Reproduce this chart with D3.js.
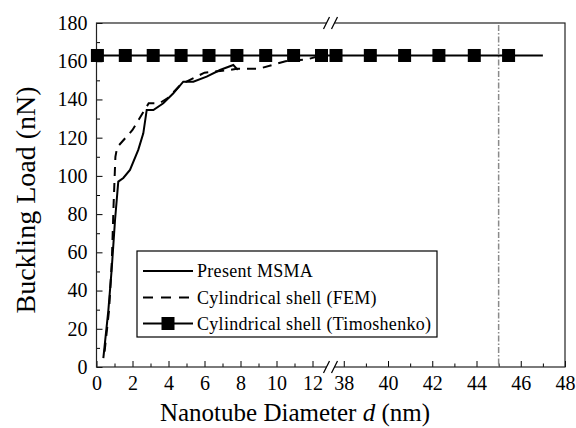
<!DOCTYPE html>
<html>
<head>
<meta charset="utf-8">
<script src="https://cdn.jsdelivr.net/npm/d3@7"></script>
<style>
  body { margin: 0; background: #fff; }
  svg { display: block; font-family: "Liberation Serif", "Times New Roman", serif; }
</style>
</head>
<body>
<div id="chartContainer"></div>
<script>
// present MSMA (solid)
var msmaD = [0.38, 0.66, 0.84, 1.03, 1.21, 1.49, 1.86, 2.32, 2.6, 2.79, 3.16, 3.71, 4.27, 4.82, 5.38, 6.12, 6.86, 7.6, 7.85];
var msmaLoad = [4.6, 29.8, 50.7, 76.9, 97, 98.9, 103.1, 113.6, 122.3, 134.5, 134.5, 138, 143.2, 149.3, 149.3, 151.9, 155.4, 158, 155.5];
// cylindrical shell FEM (dashed)
var femD = [0.45, 0.7, 0.85, 0.95, 1.05, 1.15, 2.0, 2.9, 3.5, 4.0, 4.7, 6.0, 7.0, 7.8, 9.0, 10.5, 11.7, 12.5];
var femLoad = [8, 30, 55, 85, 110, 115, 124, 138, 138, 141, 148, 154, 155, 156, 156, 160, 161, 163];
// Timoshenko (line + squares)
var timoLineD = [0, 47];
var timoLoad = 163;
var timoMarkD = [0.05, 1.6, 3.15, 4.7, 6.25, 7.8, 9.4, 10.95, 12.5, 37.65, 39.2, 40.75, 42.3, 43.9, 45.45];
// dash-dot reference line
var refD = 45;

var yMajor = [0, 20, 40, 60, 80, 100, 120, 140, 160, 180];
var yMinor = [10, 30, 50, 70, 90, 110, 130, 150, 170];
var xMajor = [0, 2, 4, 6, 8, 10, 12, 38, 40, 42, 44, 46, 48];
var xMinor = [1, 3, 5, 7, 9, 11, 39, 41, 43, 45, 47];
var breakAt = 13;

var legendNames = ["Present MSMA", "Cylindrical shell (FEM)", "Cylindrical shell (Timoshenko)"];

var width = 576, height = 428;
var plotLeft = 96.5, plotRight = 565, plotTop = 23, plotBottom = 367;

var svg = d3.select("#chartContainer")
    .append("svg")
    .attr("width", width)
    .attr("height", height);

svg.append("rect").attr("width", width).attr("height", height).attr("fill", "#fff");

// broken x axis: 0-13 then 37.4-48
var xScale = d3.scaleLinear()
    .domain([0, 13, 37.4, 48])
    .range([plotLeft, 330.5, 330.5, plotRight]);

var yScale = d3.scaleLinear()
    .domain([0, 180])
    .range([plotBottom, plotTop]);

var tickFont = "20px 'Liberation Serif', 'Times New Roman', serif";

// y axis
var yAxis = svg.append("g")
    .attr("transform", "translate(" + plotLeft + ",0)")
    .call(d3.axisLeft(yScale).tickValues(yMajor).tickSize(-6).tickSizeOuter(0).tickPadding(9));
yAxis.select(".domain").remove();
yAxis.selectAll("text").style("font", tickFont).attr("fill", "#000");

var yAxisMinor = svg.append("g")
    .attr("transform", "translate(" + plotLeft + ",0)")
    .call(d3.axisLeft(yScale).tickValues(yMinor).tickSize(-3.5).tickFormat(""));
yAxisMinor.select(".domain").remove();

// x axis
var xAxis = svg.append("g")
    .attr("transform", "translate(0," + plotBottom + ")")
    .call(d3.axisBottom(xScale).tickValues(xMajor).tickSize(-6).tickSizeOuter(0).tickPadding(9).tickFormat(d3.format("d")));
xAxis.select(".domain").remove();
xAxis.selectAll("text").style("font", tickFont).attr("fill", "#000");

var xAxisMinor = svg.append("g")
    .attr("transform", "translate(0," + plotBottom + ")")
    .call(d3.axisBottom(xScale).tickValues(xMinor).tickSize(-3.5).tickFormat(""));
xAxisMinor.select(".domain").remove();

svg.selectAll(".tick line").attr("stroke", "#000").attr("stroke-width", 1);

// frame
svg.append("rect")
    .attr("x", plotLeft).attr("y", plotTop)
    .attr("width", plotRight - plotLeft).attr("height", plotBottom - plotTop)
    .attr("fill", "none")
    .attr("stroke", "#222")
    .attr("stroke-width", 1.2);

// reference dash-dot line
svg.append("line")
    .attr("x1", xScale(refD)).attr("x2", xScale(refD))
    .attr("y1", plotTop + 2).attr("y2", plotBottom)
    .attr("stroke", "#8a8a8a")
    .attr("stroke-width", 1.5)
    .attr("stroke-dasharray", "6,2,1.5,2");

var line = d3.line()
    .x(function(d) { return xScale(d[0]); })
    .y(function(d) { return yScale(d[1]); });

// FEM dashed
svg.append("path")
    .datum(d3.zip(femD, femLoad))
    .attr("d", line)
    .attr("fill", "none")
    .attr("stroke", "#000")
    .attr("stroke-width", 2)
    .attr("stroke-dasharray", "9,7");

// MSMA solid
svg.append("path")
    .datum(d3.zip(msmaD, msmaLoad))
    .attr("d", line)
    .attr("fill", "none")
    .attr("stroke", "#000")
    .attr("stroke-width", 2);

// Timoshenko
svg.append("path")
    .datum(timoLineD.map(function(d) { return [d, timoLoad]; }))
    .attr("d", line)
    .attr("fill", "none")
    .attr("stroke", "#000")
    .attr("stroke-width", 2);

var sq = 13;
svg.selectAll("rect.timo")
    .data(timoMarkD)
    .enter()
    .append("rect")
    .attr("class", "timo")
    .attr("x", function(d) { return xScale(d) - sq / 2; })
    .attr("y", yScale(timoLoad) - sq / 2)
    .attr("width", sq)
    .attr("height", sq)
    .attr("fill", "#000");

// axis break marks
function breakMark(y) {
    var bx = xScale(breakAt);
    svg.append("rect")
        .attr("x", bx - 4).attr("y", y - 2)
        .attr("width", 8).attr("height", 4)
        .attr("fill", "#fff");
    [-4, 4].forEach(function(o) {
        svg.append("line")
            .attr("x1", bx + o - 3).attr("y1", y + 6)
            .attr("x2", bx + o + 3).attr("y2", y - 6)
            .attr("stroke", "#000")
            .attr("stroke-width", 1.2);
    });
}
breakMark(plotTop);
breakMark(plotBottom);

// legend
var lg = svg.append("g").attr("transform", "translate(137,251)");
lg.append("rect")
    .attr("width", 300).attr("height", 86)
    .attr("fill", "#fff")
    .attr("stroke", "#000")
    .attr("stroke-width", 1.2);

var rowY = [20, 46.5, 72.5];
legendNames.forEach(function(name, i) {
    var ln = lg.append("line")
        .attr("x1", 6).attr("x2", 56)
        .attr("y1", rowY[i]).attr("y2", rowY[i])
        .attr("stroke", "#000")
        .attr("stroke-width", 2);
    if (i === 1) ln.attr("stroke-dasharray", "10,8");
    if (i === 2) {
        lg.append("rect")
            .attr("x", 31 - sq / 2).attr("y", rowY[i] - sq / 2)
            .attr("width", sq).attr("height", sq)
            .attr("fill", "#000");
    }
    lg.append("text")
        .attr("x", 60)
        .attr("y", rowY[i] + 6)
        .style("font-size", "18px")
        .style("letter-spacing", "0.3px")
        .text(name);
});

// axis titles
svg.append("text")
    .attr("transform", "translate(35,200) rotate(-90)")
    .attr("text-anchor", "middle")
    .style("font-size", "28px")
    .text("Buckling Load (nN)");

var xt = svg.append("text")
    .attr("x", 295)
    .attr("y", 421)
    .attr("text-anchor", "middle")
    .style("font-size", "25px");
xt.append("tspan").text("Nanotube Diameter ");
xt.append("tspan").style("font-style", "italic").text("d");
xt.append("tspan").text(" (nm)");
</script>
</body>
</html>
